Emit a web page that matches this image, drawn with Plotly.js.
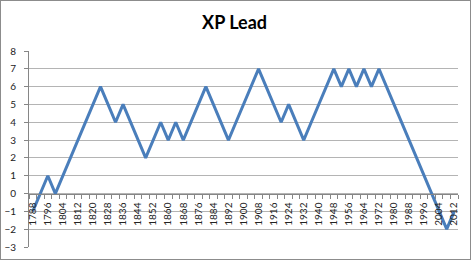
<!DOCTYPE html>
<html>
<head>
<meta charset="utf-8">
<script src="https://cdn.plot.ly/plotly-3.0.1.min.js"></script>
<style>
html,body{margin:0;padding:0;background:#fff;}
#chart{width:472px;height:261px;position:absolute;left:0;top:0;}
#frame{position:absolute;left:0;top:0;width:471px;height:260px;box-sizing:border-box;border:1px solid #8c8c8c;pointer-events:none;}
</style>
</head>
<body>
<div id="chart"></div>
<div id="frame"></div>
<script>
const years = [1788,1792,1796,1800,1804,1808,1812,1816,1820,1824,1828,1832,1836,1840,1844,1848,1852,1856,1860,1864,1868,1872,1876,1880,1884,1888,1892,1896,1900,1904,1908,1912,1916,1920,1924,1928,1932,1936,1940,1944,1948,1952,1956,1960,1964,1968,1972,1976,1980,1984,1988,1992,1996,2000,2004,2008,2012];
const xpLead = [-1,0,1,0,1,2,3,4,5,6,5,4,5,4,3,2,3,4,3,4,3,4,5,6,5,4,3,4,5,6,7,6,5,4,5,4,3,4,5,6,7,6,7,6,7,6,7,6,5,4,3,2,1,0,-1,-2,-1];
const xTickLabels = [1788,1796,1804,1812,1820,1828,1836,1844,1852,1860,1868,1876,1884,1892,1900,1908,1916,1924,1932,1940,1948,1956,1964,1972,1980,1988,1996,2004,2012];
const yTicks = [-3,-2,-1,0,1,2,3,4,5,6,7,8];

const trace = {
  x: years, y: xpLead, type: 'scatter', mode: 'lines',
  line: {color: '#4A7EBB', width: 3},
  hoverinfo: 'skip'
};
const font = {family: 'Lato, "Open Sans", sans-serif', size: 10, color: '#222'};
const layout = {
  width: 472, height: 261,
  margin: {l: 29, r: 14, t: 51, b: 14, pad: 0},
  paper_bgcolor: '#fff', plot_bgcolor: '#fff',
  showlegend: false,
  font: font,
  title: {text: '<b>XP Lead</b>', font: {family: 'Lato, "Open Sans", sans-serif', size: 18, color: '#000'},
          x: 0.497, xref: 'container', xanchor: 'center', y: 0.912, yref: 'container', yanchor: 'middle'},
  xaxis: {
    type: 'linear', range: [1786, 2014],
    anchor: 'free', position: 3/11,
    showgrid: false, zeroline: false,
    showline: true, linecolor: '#868686', linewidth: 1,
    tickmode: 'array', tickvals: xTickLabels, ticktext: xTickLabels.map(String),
    tickangle: -90, ticks: 'outside', ticklen: 4, tickcolor: 'rgba(0,0,0,0)',
    minor: {tick0: 1786, dtick: 4, ticks: 'outside', ticklen: 4, tickcolor: '#868686', showgrid: false},
    tickfont: font
  },
  yaxis: {
    range: [-3, 8], tickmode: 'array', tickvals: yTicks,
    showgrid: true, gridcolor: '#b4b4b4', gridwidth: 1,
    zeroline: false,
    showline: true, linecolor: '#868686', linewidth: 1,
    ticks: 'outside', ticklen: 4, tickcolor: '#868686',
    ticklabelstandoff: 6,
    tickfont: font
  }
};
Plotly.newPlot('chart', [trace], layout, {staticPlot: true, displayModeBar: false});
</script>
</body>
</html>
